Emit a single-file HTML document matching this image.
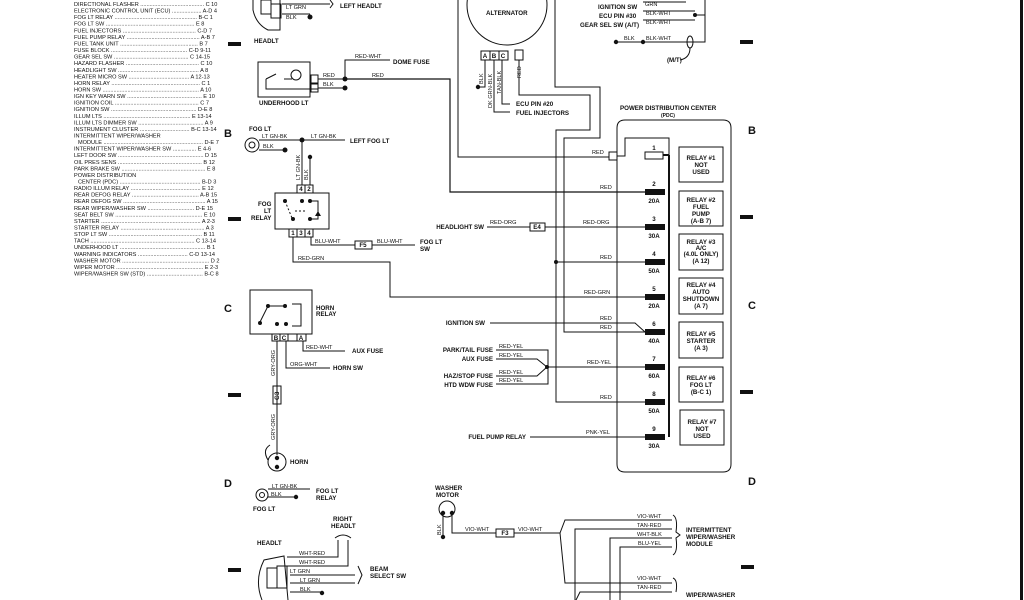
<!DOCTYPE html>
<html><head><meta charset="utf-8"><style>
html,body{margin:0;padding:0;background:#fff;}
svg{display:block;}
text{font-family:"Liberation Sans",sans-serif;fill:#111;}
.l{font-size:5.6px;}
.b{font-size:6.2px;font-weight:bold;}
.w{font-size:5.6px;}
.bl{font-size:11px;font-weight:bold;}
</style></head><body>
<svg width="1024" height="600" viewBox="0 0 1024 600" xmlns="http://www.w3.org/2000/svg">
<rect width="1024" height="600" fill="#fff"/>
<g stroke="#111" stroke-width="1.1" fill="none">
<line x1="1021.5" y1="0" x2="1021.5" y2="600" stroke-width="3"/>
</g>
<!-- index list -->
<g class="l">
<text x="74" y="6">DIRECTIONAL FLASHER ......................................... C 10</text>
<text x="74" y="12.6">ELECTRONIC CONTROL UNIT (ECU) ................... A-D 4</text>
<text x="74" y="19.2">FOG LT RELAY ..................................................... B-C 1</text>
<text x="74" y="25.7">FOG LT SW ......................................................... E 8</text>
<text x="74" y="32.3">FUEL INJECTORS ............................................... C-D 7</text>
<text x="74" y="38.9">FUEL PUMP RELAY ............................................... A-B 7</text>
<text x="74" y="45.5">FUEL TANK UNIT .................................................. B 7</text>
<text x="74" y="52">FUSE BLOCK ................................................. C-D 9-11</text>
<text x="74" y="58.6">GEAR SEL SW ................................................ C 14-15</text>
<text x="74" y="65.2">HAZARD FLASHER ............................................... C 10</text>
<text x="74" y="71.8">HEADLIGHT SW .................................................... A 8</text>
<text x="74" y="78.3">HEATER MICRO SW ....................................... A 12-13</text>
<text x="74" y="84.9">HORN RELAY ......................................................... C 1</text>
<text x="74" y="91.5">HORN SW .............................................................. A 10</text>
<text x="74" y="98">IGN KEY WARN SW ................................................ E 10</text>
<text x="74" y="104.6">IGNITION COIL ...................................................... C 7</text>
<text x="74" y="111.2">IGNITION SW ....................................................... D-E 8</text>
<text x="74" y="117.8">ILLUM LTS ........................................................ E 13-14</text>
<text x="74" y="124.3">ILLUM LTS DIMMER SW .......................................... A 9</text>
<text x="74" y="130.9">INSTRUMENT CLUSTER ................................ B-C 13-14</text>
<text x="74" y="137.5">INTERMITTENT WIPER/WASHER</text>
<text x="78" y="144">MODULE ................................................................ D-E 7</text>
<text x="74" y="150.6">INTERMITTENT WIPER/WASHER SW ............... E 4-6</text>
<text x="74" y="157.2">LEFT DOOR SW ....................................................... D 15</text>
<text x="74" y="163.8">OIL PRES SENS ...................................................... B 12</text>
<text x="74" y="170.3">PARK BRAKE SW ...................................................... E 8</text>
<text x="74" y="176.9">POWER DISTRIBUTION</text>
<text x="78" y="183.5">CENTER (PDC) .................................................... B-D 3</text>
<text x="74" y="190">RADIO ILLUM RELAY ............................................. E 12</text>
<text x="74" y="196.6">REAR DEFOG RELAY ........................................... A-B 15</text>
<text x="74" y="203.2">REAR DEFOG SW ..................................................... A 15</text>
<text x="74" y="209.8">REAR WIPER/WASHER SW .............................. D-E 15</text>
<text x="74" y="216.3">SEAT BELT SW ........................................................ E 10</text>
<text x="74" y="222.9">STARTER ................................................................ A 2-3</text>
<text x="74" y="229.5">STARTER RELAY ...................................................... A 3</text>
<text x="74" y="236">STOP LT SW ............................................................ B 11</text>
<text x="74" y="242.6">TACH ................................................................... C 13-14</text>
<text x="74" y="249.2">UNDERHOOD LT ....................................................... B 1</text>
<text x="74" y="255.8">WARNING INDICATORS ................................ C-D 13-14</text>
<text x="74" y="262.3">WASHER MOTOR ........................................................ D 2</text>
<text x="74" y="268.9">WIPER MOTOR ........................................................ E 2-3</text>
<text x="74" y="275.5">WIPER/WASHER SW (STD) .................................... B-C 8</text>
</g>
<g fill="#111">
<rect x="228" y="42" width="13" height="4"/><rect x="228" y="217" width="13" height="4"/>
<rect x="228" y="393" width="13" height="4"/><rect x="228" y="568" width="13" height="4"/>
<rect x="740" y="40" width="13" height="4"/><rect x="740" y="215" width="13" height="4"/>
<rect x="740" y="390" width="13" height="4"/><rect x="741" y="565" width="13" height="4"/>
</g>
<text class="bl" x="224" y="137">B</text><text class="bl" x="224" y="312">C</text><text class="bl" x="224" y="487">D</text>
<text class="bl" x="748" y="134">B</text><text class="bl" x="748" y="309">C</text><text class="bl" x="748" y="485">D</text>

<g stroke="#111" stroke-width="1" fill="none">
<path d="M253 0 L253 10 Q256 24 268 30 L280 30 L280 0"/>
<rect x="261" y="0" width="10" height="14"/><rect x="271" y="4" width="10" height="14"/>
<line x1="282" y1="4" x2="330" y2="4"/><line x1="282" y1="14" x2="310" y2="14"/>
<path d="M330 0 L333 4 L330 8"/>
<rect x="258" y="62" width="52" height="35"/>
<rect x="311" y="75" width="7" height="8"/><rect x="311" y="84" width="7" height="8"/>
<circle cx="296" cy="75" r="5"/>
<path d="M266 79 L276 74 M284 79 L292 79 M266 79 L266 89 L318 89"/>
<line x1="318" y1="79" x2="345" y2="79"/><line x1="318" y1="88" x2="345" y2="88"/>
<path d="M345 79 L345 60 L390 60"/>
<path d="M345 79 L450 79 L450 192 L650 192" stroke-width="1.2"/>
<circle cx="507" cy="5" r="40"/>
<rect x="481" y="51" width="9" height="9"/><rect x="490" y="51" width="9" height="9"/><rect x="499" y="51" width="9" height="9"/>
<rect x="515" y="50" width="8" height="10"/>
<path d="M485 60 L485 87 L478 87"/>
<path d="M494 60 L494 112 L510 112"/>
<path d="M502 60 L502 104 L510 104"/>
<path d="M519 60 L519 95 L590 95 L590 130 L556 130 L556 402 L650 402"/>
<path d="M458 0 L458 157 L609 157"/>
<path d="M555 0 L555 87 L600 87 L600 138 L564 138 L564 332 L650 332"/>
<path d="M556 262 L650 262"/>
<line x1="643" y1="2" x2="686" y2="2"/>
<line x1="643" y1="11" x2="695" y2="11"/><line x1="643" y1="20" x2="695" y2="20"/>
<path d="M695 15 L705 15 L705 0 M705 15 L705 42 L616 42"/>
<ellipse cx="690" cy="42" rx="3" ry="6"/>
<path d="M690 48 Q690 58 680 60"/>
<path d="M625 120 L723 120 Q731 120 731 128 L731 464 Q731 472 723 472 L625 472 Q617 472 617 464 L617 128 Q617 120 625 120 Z"/>
<rect x="609" y="152" width="8" height="8"/>
<path d="M617 156 L625 156 L625 138 L669 138 L669 155"/>
<line x1="669" y1="155" x2="669" y2="437" stroke-width="2"/>
<rect x="645" y="152" width="18" height="7"/>
<line x1="663" y1="155" x2="669" y2="155" stroke-width="2"/>
<rect x="679" y="147" width="44" height="35"/><rect x="679" y="191" width="44" height="35"/>
<rect x="679" y="234" width="44" height="36"/><rect x="679" y="278" width="44" height="36"/>
<rect x="679" y="322" width="44" height="36"/><rect x="679" y="367" width="44" height="35"/>
<rect x="680" y="410" width="44" height="35"/>
<circle cx="252" cy="145" r="7"/><circle cx="252" cy="145" r="3"/>
<line x1="259" y1="140" x2="345" y2="140"/><line x1="259" y1="150" x2="285" y2="150"/>
<line x1="302" y1="140" x2="302" y2="185"/><line x1="310" y1="157" x2="310" y2="185"/>
<rect x="297" y="185" width="8" height="8"/><rect x="305" y="185" width="8" height="8"/>
<rect x="275" y="193" width="54" height="36"/>
<rect x="289" y="229" width="8" height="8"/><rect x="297" y="229" width="8" height="8"/><rect x="305" y="229" width="8" height="8"/>
<path d="M285 201 L292 218 M295 211 L307 211" stroke-dasharray="2 2"/>
<path d="M310 201 L318 201 L318 219 L310 219"/>
<path d="M311 237 L311 245 L355 245 M372 245 L415 245"/>
<rect x="355" y="241" width="17" height="8"/>
<path d="M293 237 L293 262 L390 262 L390 297 L650 297"/>
<path d="M487 227 L530 227 M545 227 L650 227"/>
<rect x="530" y="223" width="15" height="8"/>
<path d="M490 323 L635 323 L645 332 L650 332"/>
<path d="M496 350 L548 350 L548 384 L496 384 M496 359 L537 359 L547 367 L537 376 L496 376 M547 367 L650 367"/>
<path d="M530 437 L650 437"/>
<rect x="250" y="290" width="62" height="44"/>
<rect x="272" y="334" width="8" height="7"/><rect x="280" y="334" width="8" height="7"/><rect x="288" y="334" width="9" height="7"/><rect x="297" y="334" width="9" height="7"/>
<path d="M260 322 L268 306 M268 306 L284 306" />
<path d="M292 304 L301 304 L301 326 L292 326"/>
<path d="M303 341 L303 351 L345 351"/>
<path d="M286 341 L286 368 L330 368"/>
<line x1="277" y1="341" x2="277" y2="455"/>
<rect x="273" y="386" width="8" height="18"/>
<circle cx="277" cy="462" r="9"/>
<path d="M268 460 Q262 450 270 445"/>
<circle cx="262" cy="495" r="6"/><circle cx="262" cy="495" r="2.5"/>
<line x1="268" y1="489" x2="310" y2="489"/><line x1="268" y1="497" x2="296" y2="497"/>
<path d="M262 600 Q254 580 264 560 L284 556 L288 600"/>
<rect x="267" y="568" width="10" height="20"/><rect x="277" y="566" width="10" height="22"/>
<path d="M287 557 L338 557 L338 540 M287 566 L348 566 L348 540 M290 575 L355 575 M290 583 L355 583 M290 592 L322 592"/>
<path d="M335 538 Q343 532 351 538"/>
<path d="M358 566 L362 575 L358 584"/>
<circle cx="447" cy="509" r="8"/>
<path d="M443 513 L443 537 M452 513 L452 533 L496 533 M514 533 L560 533 L565 520 L672 520 M560 533 L565 583 L672 583"/>
<rect x="496" y="529" width="18" height="8"/>
<path d="M575 600 L575 529 L672 529 M610 600 L610 538 L672 538 M620 600 L620 547 L672 547"/>
<path d="M576 600 L580 592 L672 592"/>
<path d="M673 515 Q678 518 676 532 L680 535 L676 538 Q678 552 673 555"/>
<path d="M673 578 Q678 580 676 592"/>
</g>
<g fill="#111">
<circle cx="310" cy="17" r="2.5"/>
<circle cx="345" cy="79" r="2.5"/><circle cx="345" cy="88" r="2.5"/>
<circle cx="302" cy="140" r="2.5"/><circle cx="285" cy="150" r="2.5"/><circle cx="310" cy="157" r="2.2"/>
<circle cx="285" cy="201" r="2"/><circle cx="302" cy="201" r="2"/><circle cx="310" cy="201" r="2"/><circle cx="293" cy="219" r="2"/><circle cx="310" cy="219" r="2"/>
<circle cx="478" cy="87" r="2.2"/>
<circle cx="695" cy="15" r="2"/><circle cx="616" cy="42" r="2.2"/><circle cx="643" cy="42" r="2.2"/>
<circle cx="556" cy="262" r="2"/><circle cx="547" cy="367" r="2"/>
<circle cx="260" cy="323" r="2"/><circle cx="268" cy="306" r="2"/><circle cx="285" cy="306" r="2"/><circle cx="277" cy="324" r="2"/><circle cx="286" cy="324" r="2"/>
<circle cx="277" cy="458" r="2.2"/><circle cx="277" cy="467" r="2.2"/>
<circle cx="296" cy="497" r="2.2"/><circle cx="322" cy="593" r="2.2"/>
<circle cx="443" cy="513" r="2.2"/><circle cx="452" cy="513" r="2.2"/><circle cx="443" cy="537" r="2.2"/>
<path d="M318 211 L315 216 L321 216 Z"/>
<rect x="645" y="189" width="20" height="6"/>
<rect x="645" y="224" width="20" height="6"/><rect x="645" y="259" width="20" height="6"/>
<rect x="645" y="294" width="20" height="6"/><rect x="645" y="329" width="20" height="6"/>
<rect x="645" y="364" width="20" height="6"/><rect x="645" y="399" width="20" height="6"/>
<rect x="645" y="434" width="20" height="6"/>
</g>
<g class="b">
<text x="340" y="8">LEFT HEADLT</text><text x="254" y="43">HEADLT</text>
<text x="393" y="64">DOME FUSE</text><text x="259" y="105">UNDERHOOD LT</text>
<text x="486" y="15">ALTERNATOR</text>
<text x="516" y="106">ECU PIN #20</text><text x="516" y="115">FUEL INJECTORS</text>
<text x="598" y="9">IGNITION SW</text><text x="599" y="18">ECU PIN #30</text><text x="580" y="27">GEAR SEL SW (A/T)</text>
<text x="667" y="62">(M/T)</text>
<text x="620" y="110">POWER DISTRIBUTION CENTER</text><text x="661" y="117" font-size="5">(PDC)</text>
<text x="249" y="131">FOG LT</text><text x="350" y="143">LEFT FOG LT</text>
<text x="258" y="206">FOG</text><text x="264" y="213">LT</text><text x="251" y="220">RELAY</text>
<text x="420" y="244">FOG LT</text><text x="420" y="251">SW</text>
<text x="316" y="310">HORN</text><text x="316" y="316">RELAY</text>
<text x="352" y="353">AUX FUSE</text><text x="333" y="370">HORN SW</text>
<text x="290" y="464">HORN</text>
<text x="316" y="493">FOG LT</text><text x="316" y="500">RELAY</text><text x="253" y="511">FOG LT</text>
<text x="333" y="521">RIGHT</text><text x="331" y="528">HEADLT</text><text x="257" y="545">HEADLT</text>
<text x="370" y="571">BEAM</text><text x="370" y="578">SELECT SW</text>
<text x="435" y="490">WASHER</text><text x="436" y="497">MOTOR</text>
<text x="686" y="532">INTERMITTENT</text><text x="686" y="539">WIPER/WASHER</text><text x="686" y="546">MODULE</text>
<text x="686" y="597">WIPER/WASHER</text>
</g>
<g class="b" text-anchor="end">
<text x="484" y="229">HEADLIGHT SW</text><text x="485" y="325">IGNITION SW</text>
<text x="493" y="352">PARK/TAIL FUSE</text><text x="493" y="361">AUX FUSE</text>
<text x="493" y="378">HAZ/STOP FUSE</text><text x="493" y="387">HTD WDW FUSE</text>
<text x="526" y="439">FUEL PUMP RELAY</text>
</g>
<g class="b" font-size="5.6" text-anchor="middle">
<text x="701" y="160">RELAY #1</text><text x="701" y="167">NOT</text><text x="701" y="174">USED</text>
<text x="701" y="202">RELAY #2</text><text x="701" y="209">FUEL</text><text x="701" y="216">PUMP</text><text x="701" y="223">(A-B 7)</text>
<text x="701" y="244">RELAY #3</text><text x="701" y="250">A/C</text><text x="701" y="256">(4.0L ONLY)</text><text x="701" y="263">(A 12)</text>
<text x="701" y="287">RELAY #4</text><text x="701" y="294">AUTO</text><text x="701" y="301">SHUTDOWN</text><text x="701" y="308">(A 7)</text>
<text x="701" y="336">RELAY #5</text><text x="701" y="343">STARTER</text><text x="701" y="350">(A 3)</text>
<text x="701" y="380">RELAY #6</text><text x="701" y="387">FOG LT</text><text x="701" y="394">(B-C 1)</text>
<text x="702" y="424">RELAY #7</text><text x="702" y="431">NOT</text><text x="702" y="438">USED</text>
<text x="654" y="150">1</text><text x="654" y="186">2</text><text x="654" y="203">20A</text>
<text x="654" y="221">3</text><text x="654" y="238">30A</text><text x="654" y="256">4</text><text x="654" y="273">50A</text>
<text x="654" y="291">5</text><text x="654" y="308">20A</text><text x="654" y="326">6</text><text x="654" y="343">40A</text>
<text x="654" y="361">7</text><text x="654" y="378">60A</text><text x="654" y="396">8</text><text x="654" y="413">50A</text>
<text x="654" y="431">9</text><text x="654" y="448">30A</text>
<text x="485" y="58">A</text><text x="494" y="58">B</text><text x="503" y="58">C</text>
<text x="301" y="191">4</text><text x="309" y="191">2</text>
<text x="293" y="235">1</text><text x="301" y="235">3</text><text x="309" y="235">4</text>
<text x="276" y="340">B</text><text x="284" y="340">C</text><text x="301" y="340">A</text>
<text x="363" y="247">F5</text><text x="537" y="229">E4</text><text x="505" y="535">F3</text>
</g>
<g class="w">
<text x="286" y="9">LT GRN</text><text x="286" y="19">BLK</text>
<text x="355" y="58">RED-WHT</text><text x="323" y="77">RED</text><text x="323" y="86">BLK</text><text x="372" y="77">RED</text>
<text x="645" y="6">GRN</text><text x="646" y="15">BLK-WHT</text><text x="646" y="24">BLK-WHT</text>
<text x="624" y="40">BLK</text><text x="646" y="40">BLK-WHT</text>
<text x="592" y="154">RED</text><text x="600" y="189">RED</text><text x="583" y="224">RED-ORG</text><text x="490" y="224">RED-ORG</text>
<text x="600" y="259">RED</text><text x="584" y="294">RED-GRN</text><text x="600" y="320">RED</text><text x="600" y="329">RED</text>
<text x="587" y="364">RED-YEL</text><text x="600" y="399">RED</text><text x="586" y="434">PNK-YEL</text>
<text x="499" y="348">RED-YEL</text><text x="499" y="357">RED-YEL</text><text x="499" y="374">RED-YEL</text><text x="499" y="382">RED-YEL</text>
<text x="262" y="138">LT GN-BK</text><text x="263" y="148">BLK</text><text x="311" y="138">LT GN-BK</text>
<text x="315" y="243">BLU-WHT</text><text x="377" y="243">BLU-WHT</text><text x="298" y="260">RED-GRN</text>
<text x="306" y="349">RED-WHT</text><text x="290" y="366">ORG-WHT</text>
<text x="272" y="488">LT GN-BK</text><text x="271" y="496">BLK</text>
<text x="299" y="555">WHT-RED</text><text x="299" y="564">WHT-RED</text><text x="290" y="573">LT GRN</text><text x="300" y="582">LT GRN</text><text x="300" y="591">BLK</text>
<text x="465" y="531">VIO-WHT</text><text x="518" y="531">VIO-WHT</text>
<text x="637" y="518">VIO-WHT</text><text x="637" y="527">TAN-RED</text><text x="637" y="536">WHT-BLK</text><text x="638" y="545">BLU-YEL</text>
<text x="637" y="580">VIO-WHT</text><text x="637" y="589">TAN-RED</text>
</g>
<g class="w">
<text transform="translate(483,84) rotate(-90)">BLK</text>
<text transform="translate(492,108) rotate(-90)">DK GRN-BLK</text>
<text transform="translate(501,94) rotate(-90)">TAN-BLK</text>
<text transform="translate(521,78) rotate(-90)">RED</text>
<text transform="translate(300,180) rotate(-90)">LT GN-BK</text>
<text transform="translate(308,180) rotate(-90)">BLK</text>
<text transform="translate(275,376) rotate(-90)">GRY-ORG</text>
<text transform="translate(275,440) rotate(-90)">GRY-ORG</text>
<text transform="translate(279,400) rotate(-90)" class="b">G3</text>
<text transform="translate(441,535) rotate(-90)">BLK</text>
</g>
</svg>
</body></html>
